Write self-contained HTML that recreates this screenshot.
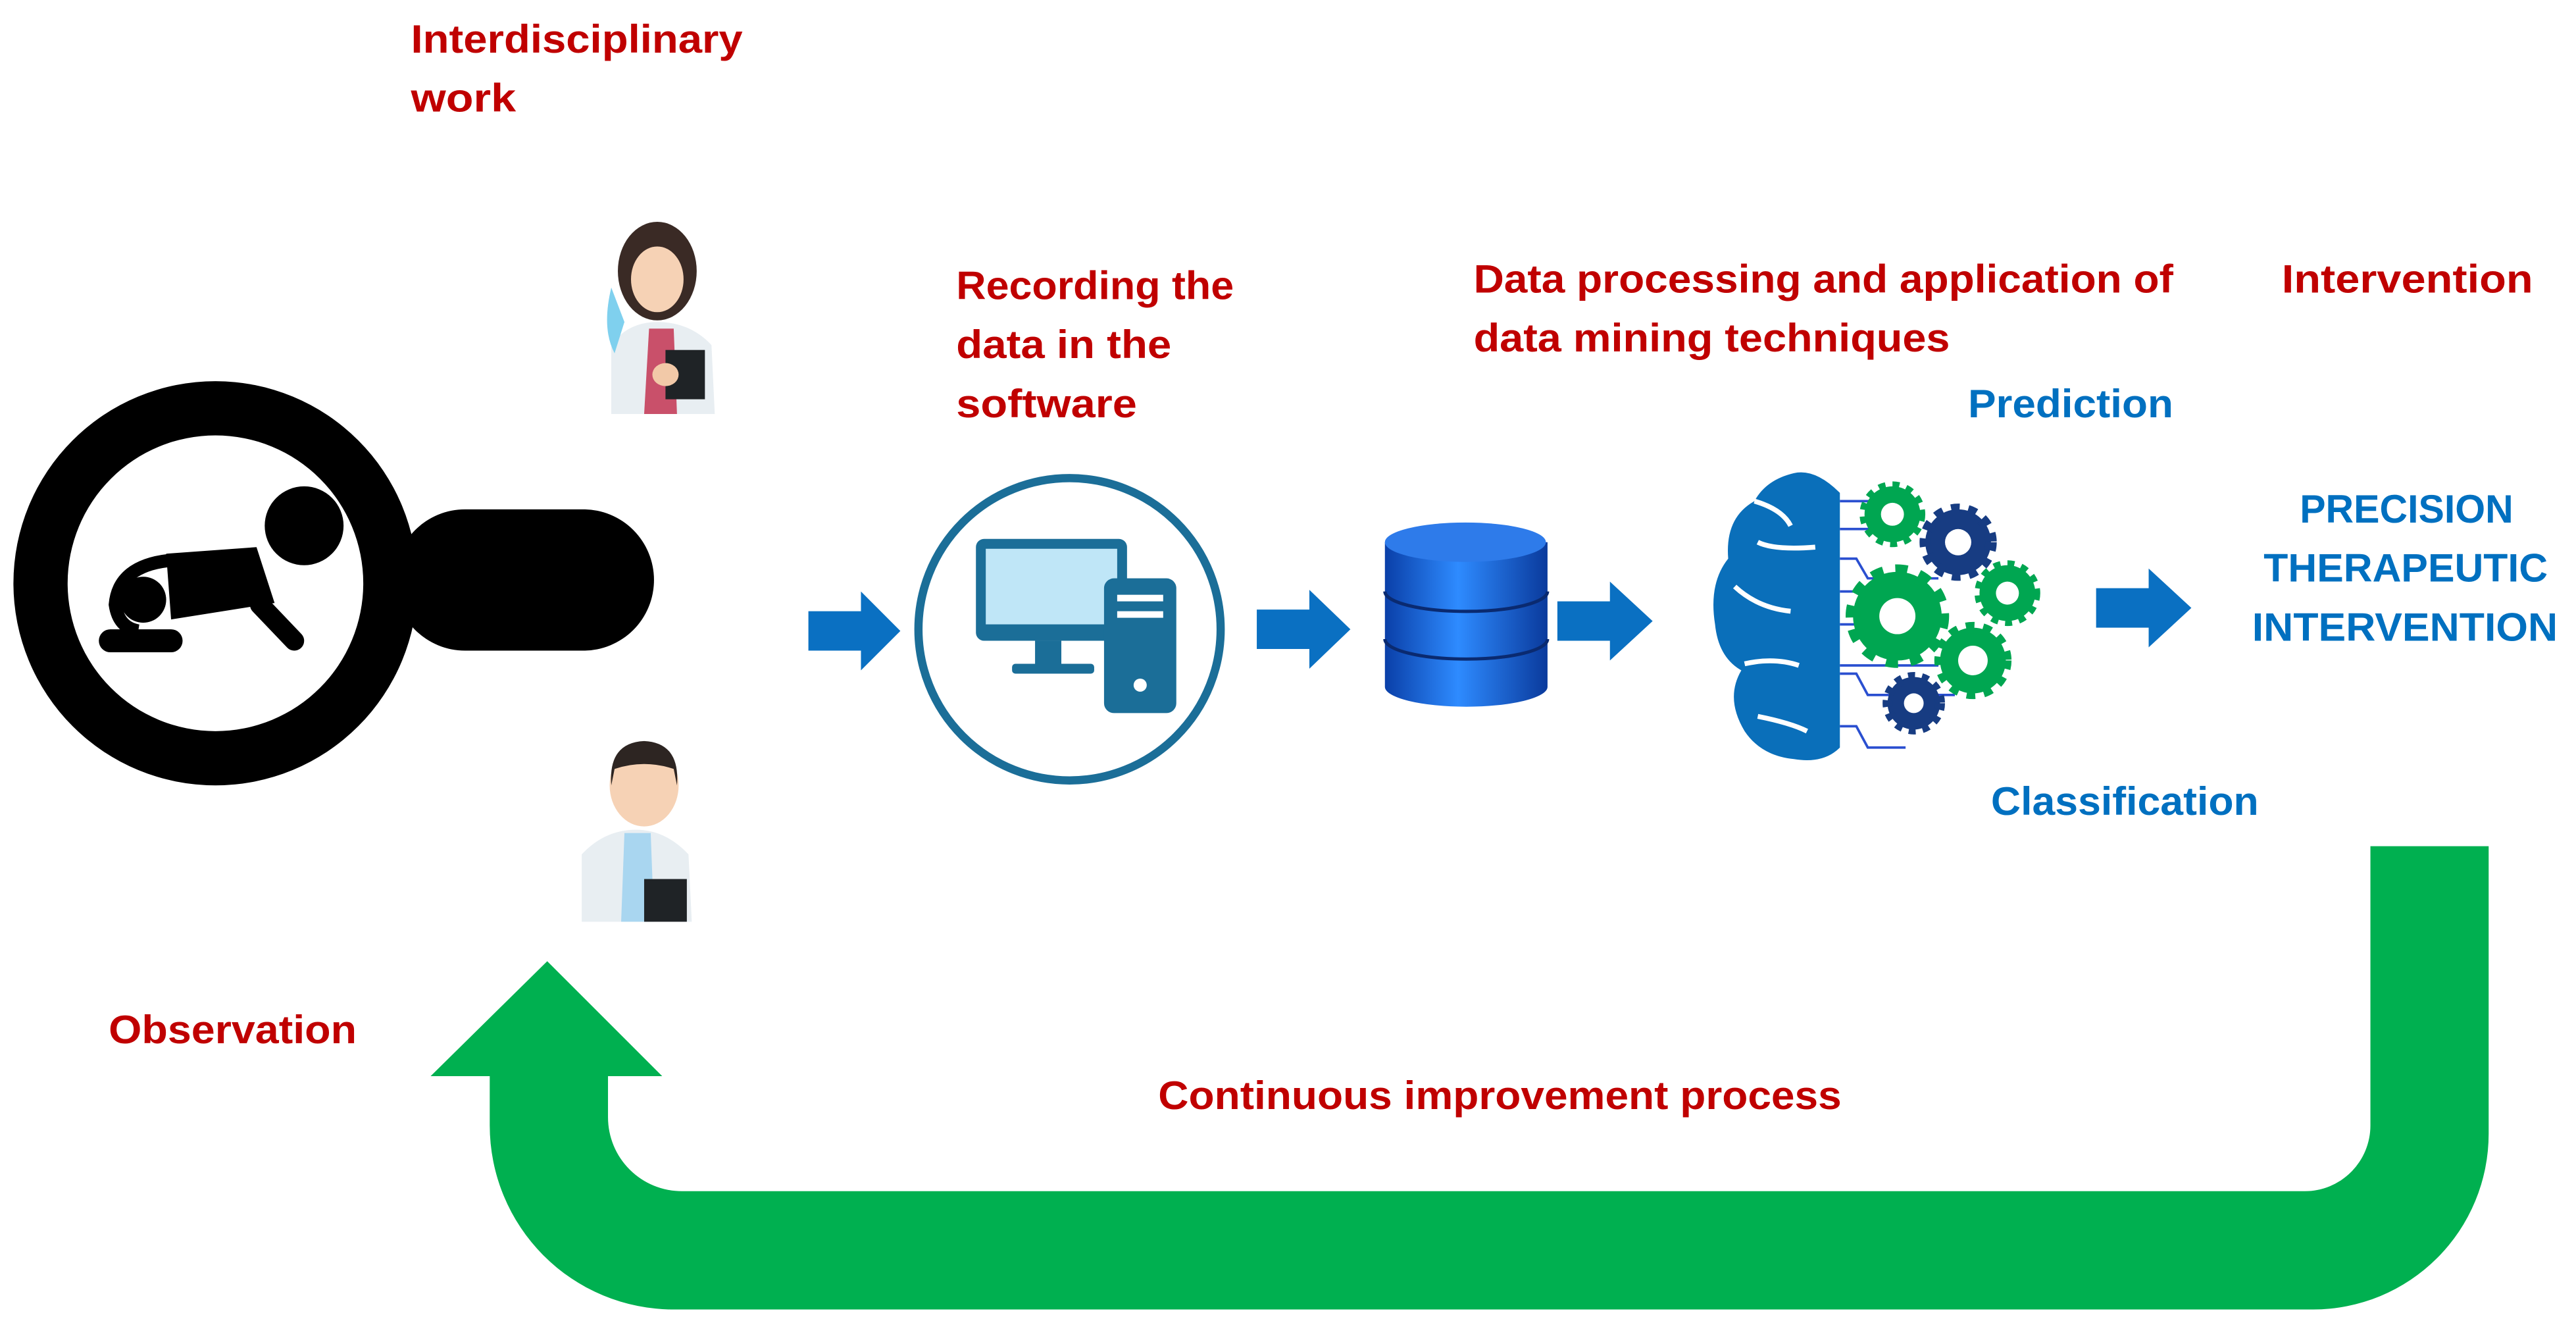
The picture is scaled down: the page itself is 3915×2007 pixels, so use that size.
<!DOCTYPE html>
<html><head><meta charset="utf-8"><style>
html,body{margin:0;padding:0;background:#fff;}
svg{display:block;}
text{font-family:"Liberation Sans",sans-serif;font-weight:bold;font-size:24px;}
.r{fill:#C00000;} .b{fill:#0070C0;}
</style></head><body>
<svg width="3915" height="2007" viewBox="0 0 1568 804" xmlns="http://www.w3.org/2000/svg">
<rect width="1568" height="804" fill="#fff"/>
<!-- texts -->
<text class="r" x="250" y="32" textLength="202" lengthAdjust="spacingAndGlyphs">Interdisciplinary</text>
<text class="r" x="250" y="68" textLength="64" lengthAdjust="spacingAndGlyphs">work</text>
<text class="r" x="582" y="182" textLength="169" lengthAdjust="spacingAndGlyphs">Recording the</text>
<text class="r" x="582" y="218" textLength="131" lengthAdjust="spacingAndGlyphs">data in the</text>
<text class="r" x="582" y="254" textLength="110" lengthAdjust="spacingAndGlyphs">software</text>
<text class="r" x="897" y="178" textLength="426" lengthAdjust="spacingAndGlyphs">Data processing and application of</text>
<text class="r" x="897" y="214" textLength="290" lengthAdjust="spacingAndGlyphs">data mining techniques</text>
<text class="r" x="1389" y="178" textLength="153" lengthAdjust="spacingAndGlyphs">Intervention</text>
<text class="b" x="1198" y="254" textLength="125" lengthAdjust="spacingAndGlyphs">Prediction</text>
<text class="b" x="1400" y="318" textLength="130" lengthAdjust="spacingAndGlyphs">PRECISION</text>
<text class="b" x="1378" y="354" textLength="173" lengthAdjust="spacingAndGlyphs">THERAPEUTIC</text>
<text class="b" x="1371" y="390" textLength="186" lengthAdjust="spacingAndGlyphs">INTERVENTION</text>
<text class="b" x="1212" y="496" textLength="163" lengthAdjust="spacingAndGlyphs">Classification</text>
<text class="r" x="66" y="635" textLength="151" lengthAdjust="spacingAndGlyphs">Observation</text>
<text class="r" x="705" y="675" textLength="416" lengthAdjust="spacingAndGlyphs">Continuous improvement process</text>

<!-- magnifier -->
<rect x="240" y="310" width="158" height="86" rx="43" fill="#000"/>
<circle cx="131" cy="355" r="123" fill="#000"/>
<circle cx="131" cy="355" r="90" fill="#fff"/>
<!-- baby -->
<circle cx="185" cy="320" r="24" fill="#000"/>
<polygon points="101,337 156,333 167,367 104,377" fill="#000"/>
<path d="M104 341 Q72 344 70 368 Q72 382 84 384" fill="none" stroke="#000" stroke-width="8"/>
<circle cx="87" cy="365" r="14" fill="#000"/>
<rect x="60" y="383" width="51" height="14" rx="7" fill="#000"/>
<line x1="158" y1="368" x2="179" y2="390" stroke="#000" stroke-width="12" stroke-linecap="round"/>

<!-- female doctor -->
<g>
<path d="M372 210 L372 252 L435 252 L433 210 Q420 196 400 196 Q382 196 372 210Z" fill="#E8EEF2"/>
<path d="M372 175 Q366 200 374 215 L380 196Z" fill="#7FD0EE"/>
<path d="M395 200 L392 252 L412 252 L410 200Z" fill="#C9506A"/>
<ellipse cx="400" cy="165" rx="24" ry="30" fill="#3A2A25"/>
<ellipse cx="400" cy="170" rx="16" ry="20" fill="#F6D2B5"/>
<rect x="405" y="213" width="24" height="30" fill="#1F2326"/>
<ellipse cx="405" cy="228" rx="8" ry="7" fill="#F2C9A8"/>
</g>
<!-- male doctor -->
<g>
<path d="M354 520 L354 561 L421 561 L419 520 Q405 505 387 505 Q368 505 354 520Z" fill="#E8EEF2"/>
<path d="M380 507 L378 561 L398 561 L396 507Z" fill="#A9D6F0"/>
<ellipse cx="392" cy="478" rx="21" ry="25" fill="#F6D2B5"/>
<path d="M372 478 Q370 452 392 451 Q414 452 412 478 L410 468 Q392 462 374 468Z" fill="#2D2522"/>
<rect x="392" y="535" width="26" height="26" fill="#1F2326"/>
</g>

<!-- blue arrows -->
<g fill="#0A70C2">
<polygon points="492,372 524,372 524,360 548,384 524,408 524,396 492,396"/>
<polygon points="765,371 797,371 797,359 822,383 797,407 797,395 765,395"/>
<polygon points="948,366 980,366 980,354 1006,378 980,402 980,390 948,390"/>
<polygon points="1276,358 1308,358 1308,346 1334,370 1308,394 1308,382 1276,382"/>
</g>

<!-- computer -->
<circle cx="651" cy="383" r="92" fill="#fff" stroke="#1B6E98" stroke-width="5"/>
<rect x="594" y="328" width="92" height="62" rx="5" fill="#1B6E98"/>
<rect x="600" y="334" width="80" height="46" fill="#BFE6F7"/>
<rect x="630" y="390" width="16" height="16" fill="#1B6E98"/>
<rect x="616" y="404" width="50" height="6" rx="2" fill="#1B6E98"/>
<rect x="672" y="352" width="44" height="82" rx="6" fill="#1B6E98"/>
<rect x="680" y="362" width="28" height="4" fill="#fff"/>
<rect x="680" y="372" width="28" height="4" fill="#fff"/>
<circle cx="694" cy="417" r="4" fill="#fff"/>

<!-- database -->
<defs>
<linearGradient id="db" x1="0" x2="1">
<stop offset="0" stop-color="#0A3FA8"/><stop offset="0.45" stop-color="#2E8BFF"/><stop offset="1" stop-color="#0A3A9C"/>
</linearGradient>
</defs>
<path d="M843 330 L843 418 A49 12 0 0 0 942 418 L942 330Z" fill="url(#db)"/>
<ellipse cx="892" cy="330" rx="49" ry="12" fill="#2E7BEA"/>
<path d="M843 360 A49 12 0 0 0 942 360" fill="none" stroke="#0A2A70" stroke-width="2"/>
<path d="M843 389 A49 12 0 0 0 942 389" fill="none" stroke="#0A2A70" stroke-width="2"/>

<!-- brain -->
<g fill="#0A6FBA">
<path d="M1120 300 Q1105 285 1092 288 Q1075 292 1068 305 Q1050 315 1052 340 Q1040 355 1044 380 Q1046 400 1060 408 Q1050 425 1062 445 Q1072 460 1092 462 Q1110 465 1120 455Z"/>
</g>
<g fill="none" stroke="#fff" stroke-width="3">
<path d="M1068 305 Q1085 310 1090 320"/><path d="M1105 333 Q1080 335 1070 330"/>
<path d="M1056 357 Q1070 370 1090 372"/><path d="M1062 404 Q1080 400 1095 405"/>
<path d="M1070 436 Q1090 440 1100 445"/>
</g>
<g stroke="#2A4FD0" stroke-width="1.5" fill="none">
<line x1="1120" y1="305" x2="1150" y2="305"/><line x1="1120" y1="322" x2="1140" y2="322"/>
<path d="M1120 340 L1130 340 L1137 352 L1180 352"/><line x1="1120" y1="360" x2="1175" y2="360"/>
<line x1="1120" y1="380" x2="1140" y2="380"/><line x1="1120" y1="405" x2="1180" y2="405"/>
<path d="M1120 410 L1130 410 L1137 423 L1190 423"/><path d="M1120 442 L1130 442 L1137 455 L1160 455"/>
</g>
<g>
<circle cx="1152" cy="313" r="17" fill="#00A651" stroke="#00A651" stroke-width="6" stroke-dasharray="4 4"/>
<circle cx="1152" cy="313" r="7" fill="#fff"/>
<circle cx="1192" cy="330" r="20" fill="#173C82" stroke="#173C82" stroke-width="7" stroke-dasharray="5 5"/>
<circle cx="1192" cy="330" r="8" fill="#fff"/>
<circle cx="1155" cy="375" r="27" fill="#00A651" stroke="#00A651" stroke-width="9" stroke-dasharray="7 7"/>
<circle cx="1155" cy="375" r="11" fill="#fff"/>
<circle cx="1222" cy="361" r="17" fill="#00A651" stroke="#00A651" stroke-width="6" stroke-dasharray="4 4"/>
<circle cx="1222" cy="361" r="7" fill="#fff"/>
<circle cx="1201" cy="402" r="20" fill="#00A651" stroke="#00A651" stroke-width="7" stroke-dasharray="5 5"/>
<circle cx="1201" cy="402" r="9" fill="#fff"/>
<circle cx="1165" cy="428" r="16" fill="#173C82" stroke="#173C82" stroke-width="6" stroke-dasharray="4 4"/>
<circle cx="1165" cy="428" r="6" fill="#fff"/>
</g>

<!-- green U arrow -->
<path d="M1443 515 L1515 515 L1515 690 A107 107 0 0 1 1408 797 L410 797 A112 112 0 0 1 298 685 L298 655 L262 655 L333 585 L403 655 L370 655 L370 680 A45 45 0 0 0 415 725 L1403 725 A40 40 0 0 0 1443 685 Z" fill="#00B050"/>
</svg>
</body></html>
